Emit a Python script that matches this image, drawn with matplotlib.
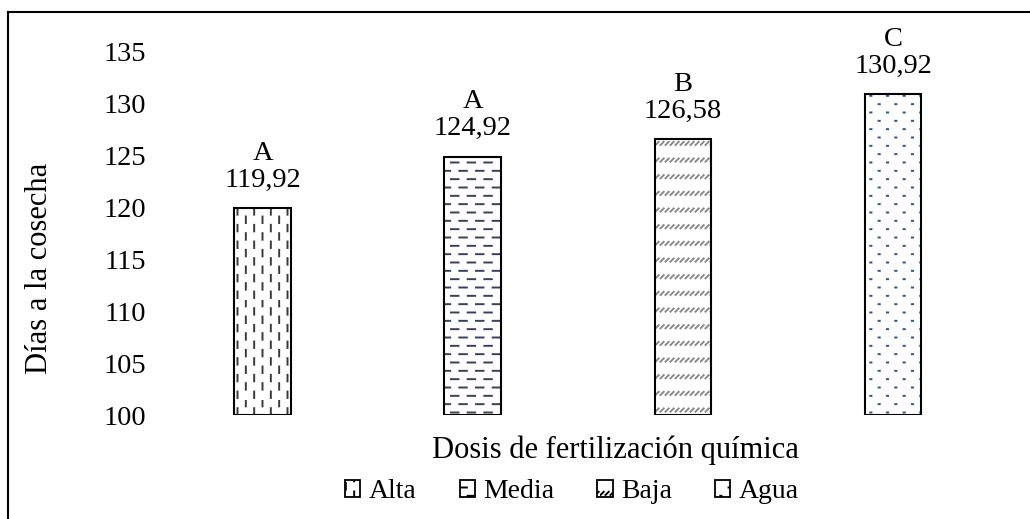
import warnings
import numpy as np
import matplotlib.pyplot as plt
from matplotlib import hatch as mhatch
from matplotlib.path import Path
from matplotlib.lines import Line2D
from matplotlib.patches import Patch

warnings.filterwarnings('ignore')

plt.rcParams['font.family'] = ['Liberation Serif', 'DejaVu Serif']
plt.rcParams['hatch.linewidth'] = 1.4

# datos
dosis = ['Alta', 'Media', 'Baja', 'Agua']
dias = [119.92, 124.92, 126.58, 130.92]
letras = ['A', 'A', 'B', 'C']
yticks = [100, 105, 110, 115, 120, 125, 130, 135]


# ---- tramas tipo Excel (trazos cortos) ----
def _seg_vdash():
    s = []
    for i in range(12):
        x = (i + 0.5) / 12
        for j in range(6):
            y0 = (j + 0.5 * (i % 2)) / 6 + 0.02
            s.append([[x, y0], [x, y0 + 0.065]])
    return s

def _seg_hdash():
    s = []
    for i in range(12):
        y = (i + 0.5) / 12
        for j in range(6):
            x0 = (j + 0.5 * (i % 2)) / 6 + 0.01
            s.append([[x0, y], [x0 + 0.075, y]])
    return s

def _seg_ddash():
    s = []
    for i in range(6):
        y = (i + 0.3) / 6
        for j in range(20):
            x0 = j / 20 + 0.005
            s.append([[x0, y], [x0 + 0.032, y + 0.032]])
    return s

def _seg_dots():
    s = []
    for i in range(12):
        y = (i + 0.5) / 12
        for j in range(6):
            x = (j + 0.25 + 0.5 * (i % 2)) / 6
            s.append([[x - 0.006, y], [x + 0.006, y]])
    return s

_SEGS = {'v': _seg_vdash, 'h': _seg_hdash, 'd': _seg_ddash, 'p': _seg_dots}


class SegHatch(mhatch.HatchPatternBase):
    def __init__(self, hatch, density):
        segs = []
        for ch, fn in _SEGS.items():
            if ch in hatch:
                segs += fn()
        self.segs = np.array(segs, dtype=float).reshape(-1, 2)
        self.num_vertices = len(self.segs)

    def set_vertices_and_codes(self, vertices, codes):
        vertices[:] = self.segs
        codes[0::2] = Path.MOVETO
        codes[1::2] = Path.LINETO


mhatch._hatch_types.append(SegHatch)

hatches = ['v', 'h', 'd', 'p']
hatch_cols = ['#3a3a3a', '#34425a', '#8a8a8a', '#2a5788']

fs = 20.5
fig = plt.figure(figsize=(10.3, 5.19), dpi=100)
ax = fig.add_axes([0.153, 0.200, 0.816, 0.760])

x = list(range(len(dosis)))
for i in x:
    ax.bar(i, dias[i] - 100, bottom=100, width=0.27, color='white',
           edgecolor=hatch_cols[i], hatch=hatches[i], linewidth=0)
    ax.bar(i, dias[i] - 100, bottom=100, width=0.27, fill=False,
           edgecolor='black', linewidth=1.5, label=dosis[i])
    txt = letras[i] + '\n' + ('%.2f' % dias[i]).replace('.', ',')
    ax.annotate(txt, (i, dias[i]), xytext=(0, 11), textcoords='offset points',
                ha='center', va='bottom', fontsize=fs, linespacing=1.1)

ax.set_xlim(-0.5, 3.5)
ax.set_ylim(100, 138)
ax.set_yticks(yticks)
ax.set_yticklabels([str(v) for v in yticks], fontsize=fs)
ax.set_xticks([])
ax.tick_params(axis='y', length=0, pad=8)
for s in ax.spines.values():
    s.set_visible(False)

fig.text(40 / 1030, 1 - 268 / 519, 'Días a la cosecha', rotation=90,
         ha='center', va='center', fontsize=22)
fig.text(615 / 1030, 1 - 450 / 519, 'Dosis de fertilización química',
         ha='center', va='center', fontsize=22)

leg_h = [Patch(facecolor='white', edgecolor=hatch_cols[i], linewidth=1.3,
               hatch=hatches[i]) for i in x]
leg = fig.legend(leg_h, dosis, loc='center', bbox_to_anchor=(572 / 1030, 1 - 492 / 519),
                 ncol=4, frameon=False, fontsize=20, handlelength=0.55,
                 handleheight=0.55, handletextpad=0.3, columnspacing=1.55)
for p in leg.get_patches():
    p.set_edgecolor('black')

# marco recortado
fig.add_artist(Line2D([8 / 1030, 1], [1 - 12 / 519, 1 - 12 / 519],
                      color='black', linewidth=1.5, transform=fig.transFigure))
fig.add_artist(Line2D([8 / 1030, 8 / 1030], [1 - 12 / 519, 0],
                      color='black', linewidth=1.5, transform=fig.transFigure))

fig.savefig('out.png', dpi=100)
